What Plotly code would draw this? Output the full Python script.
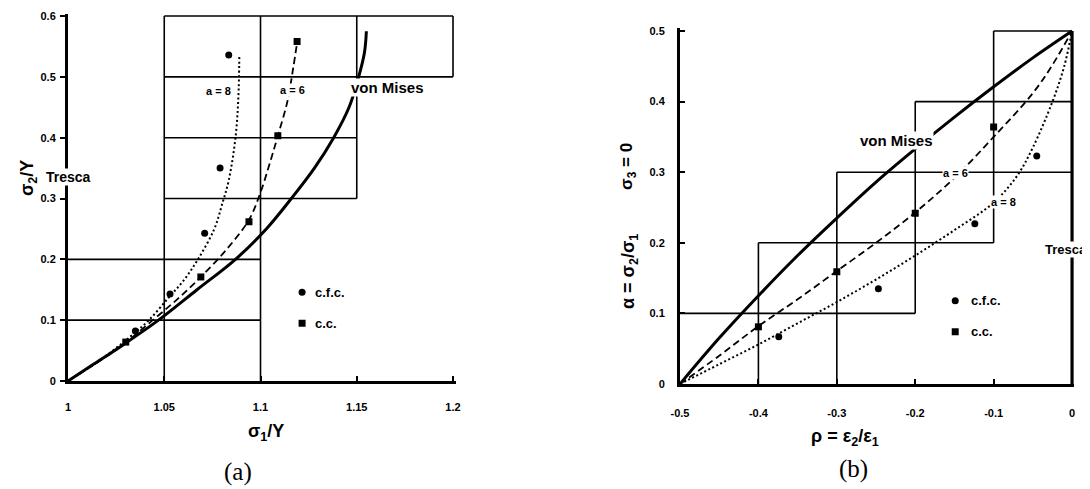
import plotly.graph_objects as go

# ---------------------------------------------------------------------------
# (a)  sigma2/Y  vs  sigma1/Y
# ---------------------------------------------------------------------------
a_vm_x = [1.0, 1.013, 1.027, 1.047, 1.067, 1.087, 1.103, 1.116, 1.128, 1.138, 1.146, 1.151, 1.154, 1.155]
a_vm_y = [0.0, 0.027, 0.056, 0.10, 0.15, 0.20, 0.25, 0.30, 0.35, 0.40, 0.45, 0.50, 0.54, 0.575]

a_a6_x = [1.0, 1.015, 1.028, 1.044, 1.057, 1.069, 1.082, 1.094, 1.1, 1.105, 1.109, 1.114, 1.117, 1.119]
a_a6_y = [0.0, 0.03, 0.058, 0.10, 0.135, 0.171, 0.215, 0.265, 0.31, 0.36, 0.403, 0.46, 0.515, 0.556]

a_a8_x = [1.0, 1.016, 1.032, 1.042, 1.0525, 1.06, 1.0675, 1.076, 1.08, 1.0835, 1.087, 1.0885, 1.089]
a_a8_y = [0.0, 0.033, 0.072, 0.10, 0.138, 0.165, 0.20, 0.25, 0.29, 0.33, 0.40, 0.467, 0.536]

a_cfc_x = [1.0835, 1.079, 1.071, 1.053, 1.035]
a_cfc_y = [0.536, 0.35, 0.243, 0.143, 0.082]
a_cc_x = [1.119, 1.109, 1.094, 1.069, 1.03]
a_cc_y = [0.558, 0.403, 0.262, 0.171, 0.064]

# step loci (boxes)
a_h_y = [0.1, 0.2, 0.3, 0.4, 0.5, 0.6]
a_h_x0 = [1.0, 1.0, 1.05, 1.05, 1.05, 1.05]
a_h_x1 = [1.1, 1.1, 1.15, 1.15, 1.2, 1.2]
a_v_x = [1.05, 1.1, 1.15, 1.2]
a_v_y0 = [0.0, 0.0, 0.3, 0.5]
a_v_y1 = [0.6, 0.6, 0.6, 0.6]

a_xticks = [1.0, 1.05, 1.1, 1.15, 1.2]
a_xtext = ["1", "1.05", "1.1", "1.15", "1.2"]
a_yticks = [0, 0.1, 0.2, 0.3, 0.4, 0.5, 0.6]
a_ytext = ["0", "0.1", "0.2", "0.3", "0.4", "0.5", "0.6"]

# ---------------------------------------------------------------------------
# (b)  alpha = sigma2/sigma1  vs  rho = eps2/eps1
# ---------------------------------------------------------------------------
b_rho = [-0.5, -0.45, -0.4, -0.35, -0.3, -0.25, -0.2, -0.15, -0.1, -0.05, 0.0]
b_vm = [0.0, 0.065, 0.125, 0.182, 0.235, 0.286, 0.333, 0.378, 0.421, 0.462, 0.5]

b_a6_x = [-0.5, -0.45, -0.4, -0.35, -0.3, -0.25, -0.2, -0.15, -0.1, -0.05, -0.025, 0.0]
b_a6_y = [0.0, 0.04, 0.082, 0.12, 0.16, 0.20, 0.243, 0.292, 0.35, 0.412, 0.452, 0.5]

b_a8_x = [-0.5, -0.45, -0.4, -0.35, -0.3, -0.25, -0.2, -0.15, -0.1, -0.07, -0.05, -0.025, -0.01, 0.0]
b_a8_y = [0.0, 0.028, 0.056, 0.086, 0.116, 0.148, 0.182, 0.218, 0.257, 0.295, 0.335, 0.40, 0.45, 0.5]

b_cfc_x = [-0.374, -0.247, -0.124, -0.045]
b_cfc_y = [0.067, 0.135, 0.227, 0.323]
b_cc_x = [-0.4, -0.3, -0.2, -0.1]
b_cc_y = [0.081, 0.159, 0.242, 0.364]

b_h_y = [0.1, 0.2, 0.3, 0.4, 0.5]
b_h_x0 = [-0.5, -0.4, -0.3, -0.2, -0.1]
b_h_x1 = [-0.2, -0.1, 0.0, 0.0, 0.0]
b_v_x = [-0.4, -0.3, -0.2, -0.1]
b_v_y0 = [0.0, 0.0, 0.1, 0.2]
b_v_y1 = [0.2, 0.3, 0.4, 0.5]
b_tresca_x = [0.0, 0.0]
b_tresca_y = [0.0, 0.5]

b_xticks = [-0.5, -0.4, -0.3, -0.2, -0.1, 0.0]
b_xtext = ["-0.5", "-0.4", "-0.3", "-0.2", "-0.1", "0"]
b_yticks = [0, 0.1, 0.2, 0.3, 0.4, 0.5]
b_ytext = ["0", "0.1", "0.2", "0.3", "0.4", "0.5"]

SANS = "Liberation Sans, Arial, sans-serif"
SERIF = "Liberation Serif, Times New Roman, serif"

# the page body keeps its 8px margin, so the figure is 8px smaller each way
OFF = 8
W, H = 1090 - OFF, 489 - OFF


def px(x):
    return (x - OFF) / W


def py(y):
    return 1 - (y - OFF) / H


def seg_lists(h_y, h_x0, h_x1, v_x, v_y0, v_y1):
    xs, ys = [], []
    for y, x0, x1 in zip(h_y, h_x0, h_x1):
        xs += [x0, x1, None]
        ys += [y, y, None]
    for x, y0, y1 in zip(v_x, v_y0, v_y1):
        xs += [x, x, None]
        ys += [y0, y1, None]
    return xs, ys


fig = go.Figure()

# ── (a) ────────────────────────────────────────────────────────────────────
gx, gy = seg_lists(a_h_y, a_h_x0, a_h_x1, a_v_x, a_v_y0, a_v_y1)
fig.add_trace(go.Scatter(x=gx, y=gy, mode="lines", line=dict(color="black", width=1.6),
                         xaxis="x", yaxis="y"))
fig.add_trace(go.Scatter(x=a_a8_x, y=a_a8_y, mode="lines",
                         line=dict(color="black", width=2, dash="2px,2.5px", shape="spline"),
                         xaxis="x", yaxis="y"))
fig.add_trace(go.Scatter(x=a_a6_x, y=a_a6_y, mode="lines",
                         line=dict(color="black", width=1.8, dash="7px,4px", shape="spline"),
                         xaxis="x", yaxis="y"))
fig.add_trace(go.Scatter(x=a_vm_x, y=a_vm_y, mode="lines",
                         line=dict(color="black", width=3, shape="spline"), xaxis="x", yaxis="y"))
fig.add_trace(go.Scatter(x=a_cfc_x, y=a_cfc_y, mode="markers",
                         marker=dict(symbol="circle", size=7, color="black"), xaxis="x", yaxis="y"))
fig.add_trace(go.Scatter(x=a_cc_x, y=a_cc_y, mode="markers",
                         marker=dict(symbol="square", size=7, color="black"), xaxis="x", yaxis="y"))
# legend markers
fig.add_trace(go.Scatter(x=[1.1216], y=[0.146], mode="markers",
                         marker=dict(symbol="circle", size=7, color="black"), xaxis="x", yaxis="y"))
fig.add_trace(go.Scatter(x=[1.1216], y=[0.095], mode="markers",
                         marker=dict(symbol="square", size=7, color="black"), xaxis="x", yaxis="y"))

# ── (b) ────────────────────────────────────────────────────────────────────
gx, gy = seg_lists(b_h_y, b_h_x0, b_h_x1, b_v_x, b_v_y0, b_v_y1)
fig.add_trace(go.Scatter(x=gx, y=gy, mode="lines", line=dict(color="black", width=1.6),
                         xaxis="x2", yaxis="y2"))
fig.add_trace(go.Scatter(x=b_tresca_x, y=b_tresca_y, mode="lines", line=dict(color="black", width=3.2),
                         xaxis="x2", yaxis="y2"))
fig.add_trace(go.Scatter(x=b_a8_x, y=b_a8_y, mode="lines",
                         line=dict(color="black", width=2, dash="2px,2.5px", shape="spline"),
                         xaxis="x2", yaxis="y2"))
fig.add_trace(go.Scatter(x=b_a6_x, y=b_a6_y, mode="lines",
                         line=dict(color="black", width=1.8, dash="7px,4px", shape="spline"),
                         xaxis="x2", yaxis="y2"))
fig.add_trace(go.Scatter(x=b_rho, y=b_vm, mode="lines",
                         line=dict(color="black", width=3, shape="spline"), xaxis="x2", yaxis="y2"))
fig.add_trace(go.Scatter(x=b_cfc_x, y=b_cfc_y, mode="markers",
                         marker=dict(symbol="circle", size=7, color="black"), xaxis="x2", yaxis="y2"))
fig.add_trace(go.Scatter(x=b_cc_x, y=b_cc_y, mode="markers",
                         marker=dict(symbol="square", size=7, color="black"), xaxis="x2", yaxis="y2"))
fig.add_trace(go.Scatter(x=[-0.149], y=[0.118], mode="markers",
                         marker=dict(symbol="circle", size=7, color="black"), xaxis="x2", yaxis="y2"))
fig.add_trace(go.Scatter(x=[-0.149], y=[0.074], mode="markers",
                         marker=dict(symbol="square", size=7, color="black"), xaxis="x2", yaxis="y2"))


def lab(text, x, y, ref, size=13, bg=None, xanchor="center", angle=0, family=SANS):
    d = dict(text=text, x=x, y=y, xref=ref[0], yref=ref[1], showarrow=False,
             xanchor=xanchor, yanchor="middle", textangle=angle,
             font=dict(family=family, size=size, color="black"), borderpad=0)
    if bg:
        d["bgcolor"] = bg
    return d


annotations = [
    # (a)
    lab("<b>Tresca</b>", 1.0005, 0.335, ("x", "y"), 14, bg="white"),
    lab("<b>von Mises</b>", 1.166, 0.483, ("x", "y"), 15, bg="white"),
    lab("<b>a = 8</b>", 1.078, 0.477, ("x", "y"), 11, bg="white"),
    lab("<b>a = 6</b>", 1.1165, 0.478, ("x", "y"), 11, bg="white"),
    lab("<b>c.f.c.</b>", 1.128, 0.146, ("x", "y"), 13, xanchor="left"),
    lab("<b>c.c.</b>", 1.128, 0.095, ("x", "y"), 13, xanchor="left"),
    lab("<b>σ<sub>1</sub>/Y</b>", px(266), py(432), ("paper", "paper"), 18),
    lab("<b>σ<sub>2</sub>/Y</b>", px(28), py(178), ("paper", "paper"), 18, angle=-90),
    lab("(a)", px(238), py(472), ("paper", "paper"), 25, family=SERIF),
    # (b)
    lab("<b>von Mises</b>", -0.2245, 0.3456, ("x2", "y2"), 15, bg="white"),
    lab("<b>a = 6</b>", -0.149, 0.299, ("x2", "y2"), 11, bg="white"),
    lab("<b>a = 8</b>", -0.088, 0.258, ("x2", "y2"), 11, bg="white"),
    lab("<b>Tresca</b>", -0.0357, 0.19, ("x2", "y2"), 13, bg="white", xanchor="left"),
    lab("<b>c.f.c.</b>", -0.130, 0.118, ("x2", "y2"), 13, xanchor="left"),
    lab("<b>c.c.</b>", -0.130, 0.074, ("x2", "y2"), 13, xanchor="left"),
    lab("<b>ρ = ε<sub>2</sub>/ε<sub>1</sub></b>", px(845), py(437), ("paper", "paper"), 18),
    lab("<b>α = σ<sub>2</sub>/σ<sub>1</sub></b>", px(629), py(272), ("paper", "paper"), 18, angle=-90),
    lab("<b>σ<sub>3</sub> = 0</b>", px(628), py(167), ("paper", "paper"), 17, angle=-90),
    lab("(b)", px(853), py(469), ("paper", "paper"), 25, family=SERIF),
]

tickfont = dict(family=SANS, size=11, color="black", weight="bold")
axis_common = dict(showgrid=False, zeroline=False, showline=True, linecolor="black", linewidth=3,
                   tickmode="array", tickcolor="black", tickwidth=1.5, tickfont=tickfont,
                   fixedrange=True, automargin=False)

fig.update_layout(
    width=W, height=H,
    margin=dict(l=0, r=0, t=0, b=0, autoexpand=False),
    paper_bgcolor="white", plot_bgcolor="white",
    showlegend=False,
    annotations=annotations,
    xaxis=dict(axis_common, domain=[px(68), px(455.9)], range=[1.0, 1.2015],
               tickvals=a_xticks, ticktext=a_xtext, ticks="inside", ticklen=5,
               ticklabelstandoff=14, anchor="y"),
    yaxis=dict(axis_common, domain=[py(381), py(13.6)], range=[0, 0.604],
               tickvals=a_yticks, ticktext=a_ytext, ticks="outside", ticklen=5,
               ticklabelstandoff=2, anchor="x"),
    xaxis2=dict(axis_common, domain=[px(680), px(1074.4)], range=[-0.5, 0.003],
                tickvals=b_xticks, ticktext=b_xtext, ticks="inside", ticklen=5,
                ticklabelstandoff=17, anchor="y2"),
    yaxis2=dict(axis_common, domain=[py(384), py(28.2)], range=[0, 0.504],
                tickvals=b_yticks, ticktext=b_ytext, ticks="inside", ticklen=5,
                ticklabelstandoff=10, anchor="x2"),
)

fig.write_html("out.html")
